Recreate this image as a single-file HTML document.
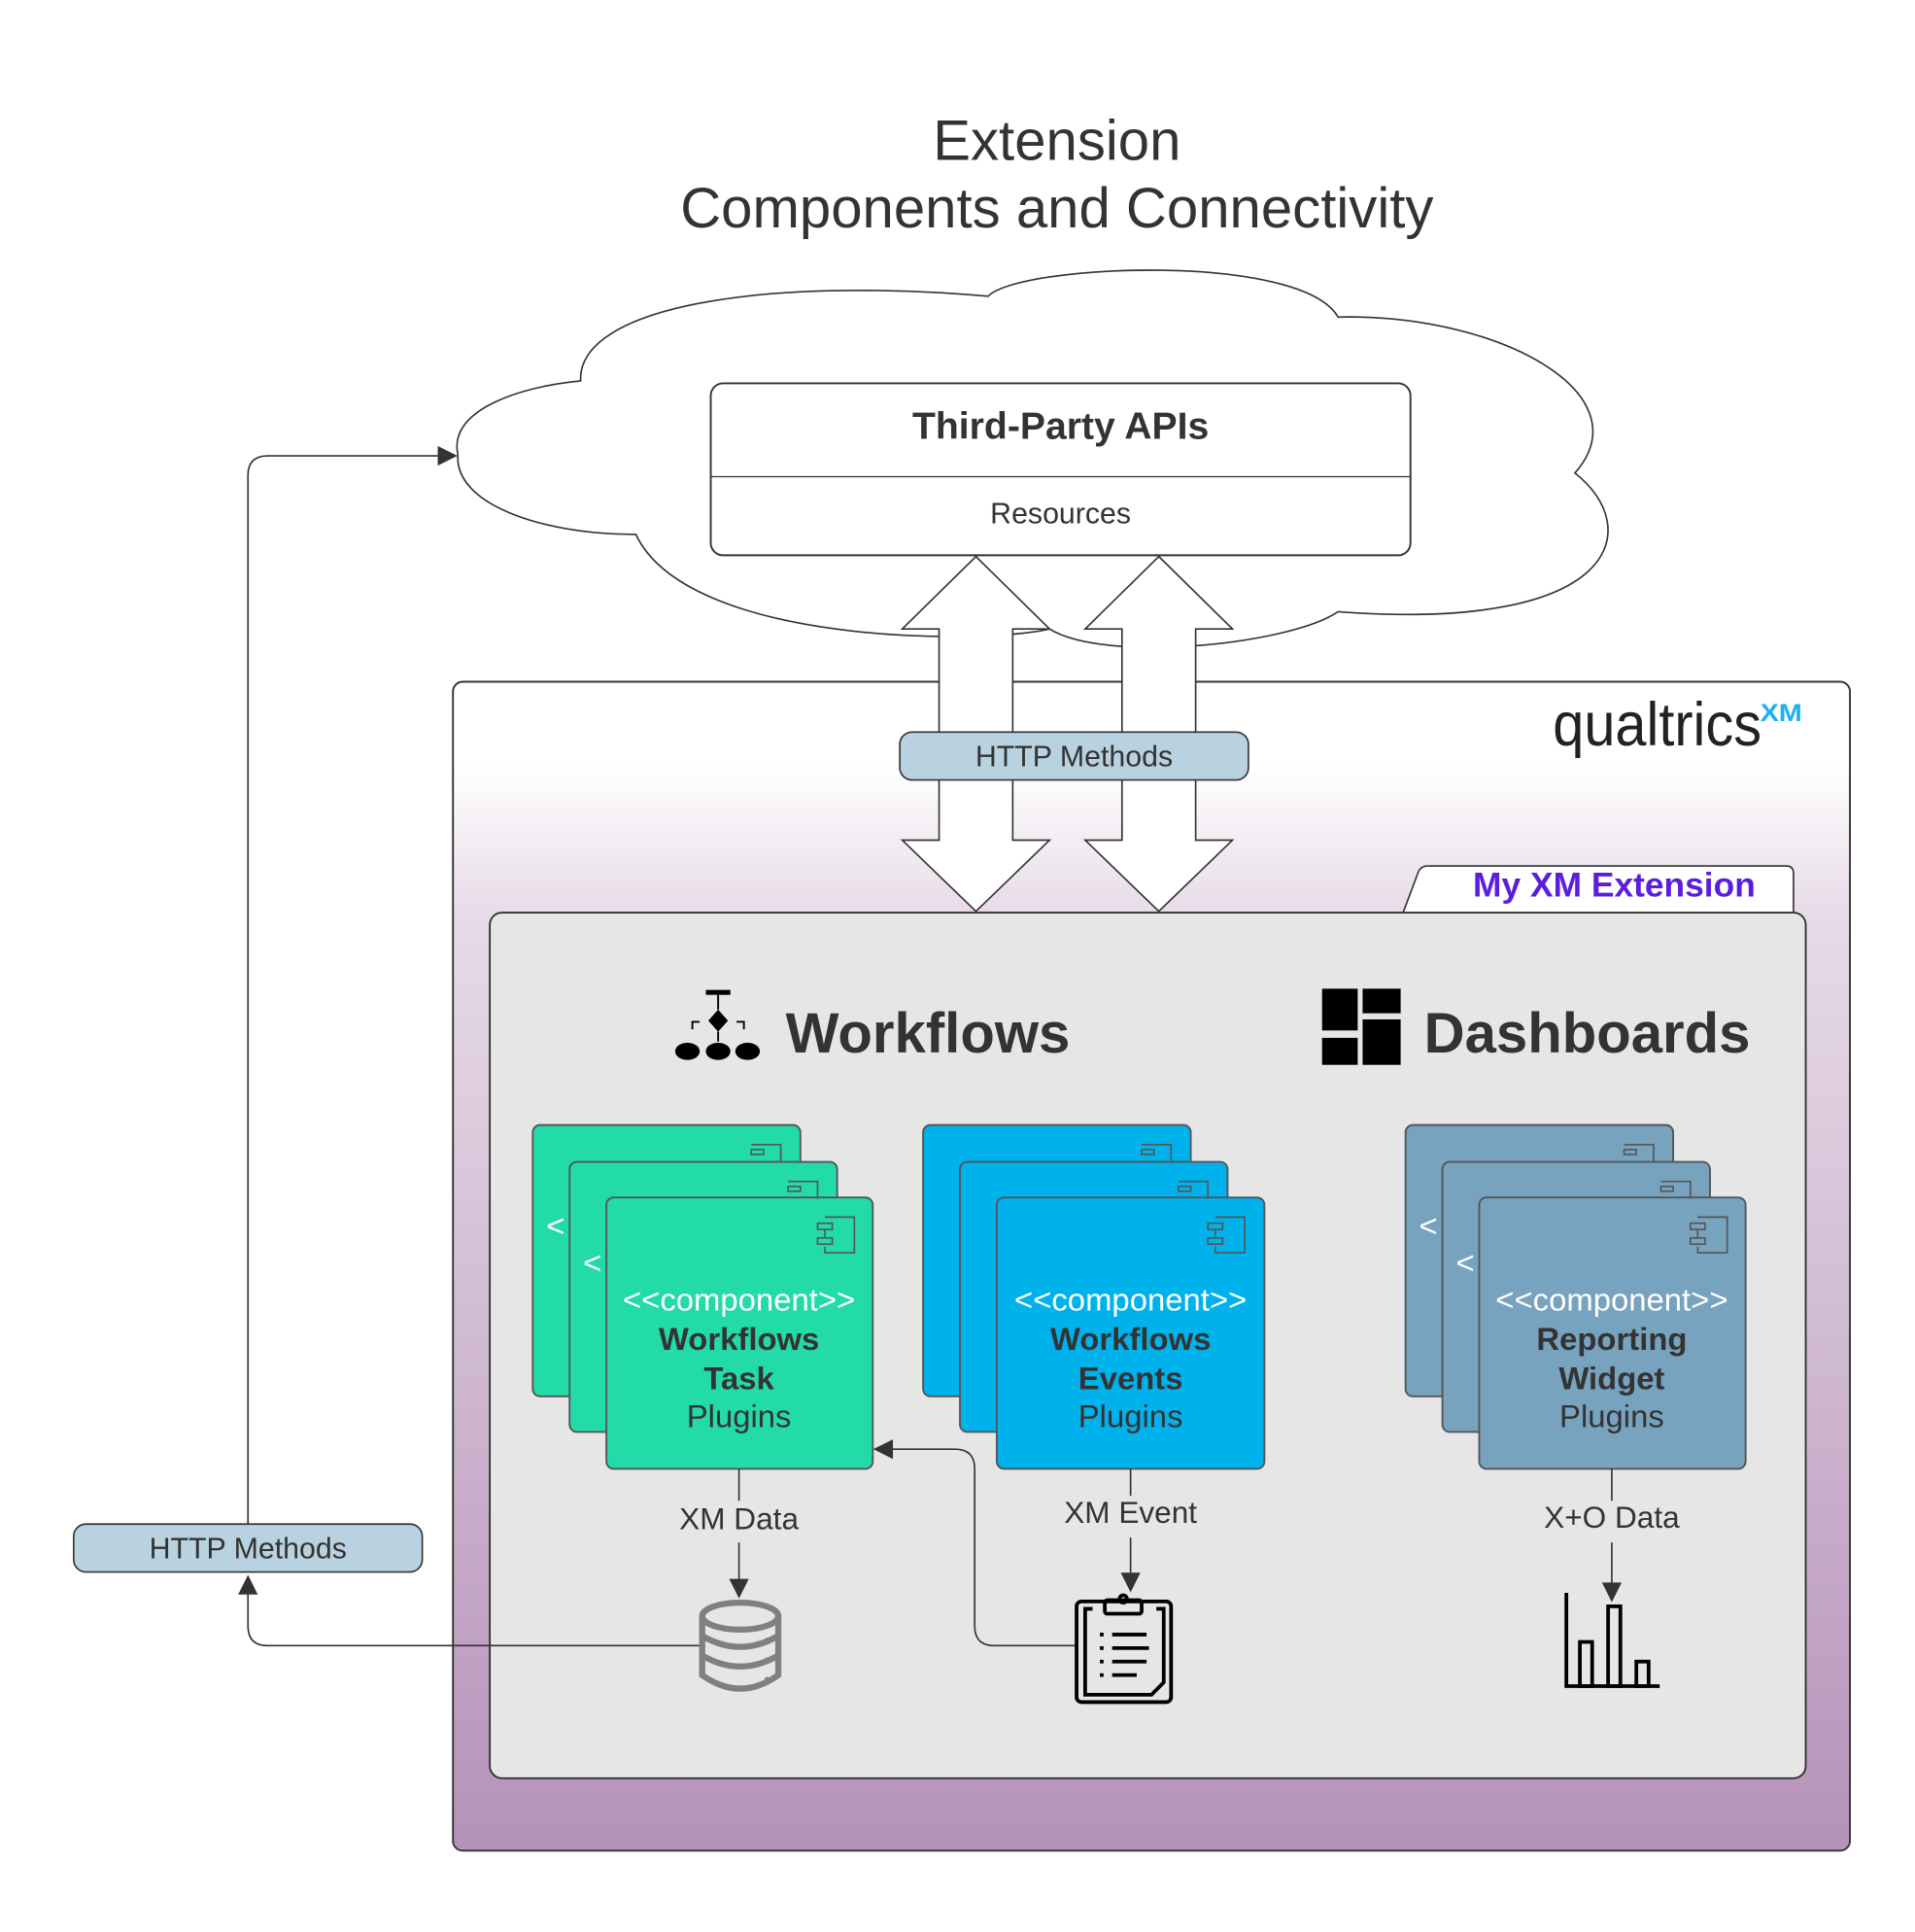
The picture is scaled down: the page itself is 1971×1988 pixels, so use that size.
<!DOCTYPE html>
<html><head><meta charset="utf-8"><style>
html,body{margin:0;padding:0;background:#fff}
svg{display:block}
text{font-family:"Liberation Sans",sans-serif;fill:#333}
</style></head><body>
<svg width="1971" height="1988" viewBox="0 0 1560 1573" xmlns="http://www.w3.org/2000/svg">
<defs>
<linearGradient id="bg" x1="0" y1="0" x2="0" y2="1">
<stop offset="0" stop-color="#ffffff"/>
<stop offset="0.07" stop-color="#ffffff"/>
<stop offset="0.2" stop-color="#e7dbe8"/>
<stop offset="1" stop-color="#b592b8"/>
</linearGradient>
<marker id="ah" viewBox="0 0 10 10" refX="9" refY="5" markerWidth="22" markerHeight="16" markerUnits="userSpaceOnUse" orient="auto"><path d="M0,0 L10,5 L0,10 Z" fill="#333"/></marker>
</defs>

<text x="861" y="130" font-size="46" text-anchor="middle">Extension</text>
<text x="861" y="185" font-size="46" text-anchor="middle">Components and Connectivity</text>

<rect x="369" y="555" width="1138" height="952" rx="8" fill="url(#bg)" stroke="#333" stroke-width="1.5"/>

<path d="M373,370 C365,335 420,315 473,310 C470,250 620,225 805,241 C830,215 1060,205 1090,258 C1220,255 1340,320 1283,385 C1340,430 1320,515 1090,498 C1050,525 900,540 855,512 C800,525 560,525 518,435 C440,435 370,410 373,370 Z" fill="#fff" stroke="#333" stroke-width="1.3"/>

<rect x="579" y="312" width="570" height="140" rx="10" fill="#fff" stroke="#333" stroke-width="1.5"/>
<line x1="579" y1="388" x2="1149" y2="388" stroke="#333" stroke-width="1"/>
<text x="864" y="357" font-size="31" font-weight="bold" text-anchor="middle">Third-Party APIs</text>
<text x="864" y="426" font-size="24" text-anchor="middle">Resources</text>

<path d="M795,453 L855,512 L825,512 L825,684 L855,684 L795,742 L735,684 L765,684 L765,512 L735,512 Z" fill="#fff" stroke="#333" stroke-width="1.3"/>
<path d="M944,453 L1004,512 L974,512 L974,684 L1004,684 L944,742 L884,684 L914,684 L914,512 L884,512 Z" fill="#fff" stroke="#333" stroke-width="1.3"/>
<rect x="733" y="596" width="284" height="39" rx="10" fill="#b9d2df" stroke="#333" stroke-width="1.3"/>
<text x="875" y="624" font-size="24" text-anchor="middle">HTTP Methods</text>

<text x="1265" y="607" font-size="50" textLength="170" lengthAdjust="spacingAndGlyphs" style="fill:#222">qualtrics</text>
<text x="1434" y="587" font-size="20" font-weight="bold" style="fill:#1bb0f0" textLength="34" lengthAdjust="spacingAndGlyphs">XM</text>

<path d="M1143,743 L1155,711 Q1157,705 1163,705 L1455,705 Q1461,705 1461,711 L1461,743" fill="#fff" stroke="#333" stroke-width="1.3"/>
<text x="1315" y="730" font-size="28" font-weight="bold" text-anchor="middle" style="fill:#5b1de0">My XM Extension</text>

<rect x="399" y="743" width="1072" height="705" rx="10" fill="#e6e6e6" stroke="#333" stroke-width="1.5"/>

<g fill="#000">
<rect x="575" y="806" width="20" height="4"/>
<line x1="585" y1="810" x2="585" y2="822" stroke="#000" stroke-width="1.5"/>
<path d="M585,822 L593,831 L585,840 L577,831 Z"/>
<line x1="585" y1="840" x2="585" y2="848" stroke="#000" stroke-width="1.5"/>
<path d="M564,838 L564,832 L570,832 M606,838 L606,832 L600,832" stroke="#000" stroke-width="1.5" fill="none"/>
<ellipse cx="560" cy="856" rx="10" ry="7"/>
<ellipse cx="585" cy="856" rx="10" ry="7"/>
<ellipse cx="609" cy="856" rx="10" ry="7"/>
</g>
<text x="640" y="857" font-size="46" font-weight="bold">Workflows</text>

<g fill="#000">
<rect x="1077" y="805" width="29" height="34"/>
<rect x="1110" y="805" width="31" height="20"/>
<rect x="1077" y="845" width="29" height="22"/>
<rect x="1110" y="830" width="31" height="37"/>
</g>
<text x="1160" y="857" font-size="46" font-weight="bold">Dashboards</text>

<g stroke="#555" stroke-width="1.5">
<rect x="434" y="916" width="218" height="221" rx="6" fill="#22dba8"/>
<rect x="464" y="946" width="218" height="220" rx="6" fill="#22dba8"/>
<rect x="494" y="975" width="217" height="221" rx="6" fill="#22dba8"/>
<rect x="752" y="916" width="218" height="221" rx="6" fill="#00b2ec"/>
<rect x="782" y="946" width="218" height="220" rx="6" fill="#00b2ec"/>
<rect x="812" y="975" width="218" height="221" rx="6" fill="#00b2ec"/>
<rect x="1145" y="916" width="218" height="221" rx="6" fill="#77a3bf"/>
<rect x="1175" y="946" width="218" height="220" rx="6" fill="#77a3bf"/>
<rect x="1205" y="975" width="217" height="221" rx="6" fill="#77a3bf"/>
</g>
<g fill="none" stroke="#555" stroke-width="1.3">
<path d="M612,932 h24 v14 M612,936 h10 v4 h-10 z"/>
<path d="M642,962 h24 v14 M642,966 h10 v4 h-10 z"/>
<path d="M672,991 h24 v29 h-24 v-5 M666,996 h12 v5 h-12 z M666,1008 h12 v5 h-12 z M672,1001 v7"/>
<path d="M930,932 h24 v14 M930,936 h10 v4 h-10 z"/>
<path d="M960,962 h24 v14 M960,966 h10 v4 h-10 z"/>
<path d="M990,991 h24 v29 h-24 v-5 M984,996 h12 v5 h-12 z M984,1008 h12 v5 h-12 z M990,1001 v7"/>
<path d="M1323,932 h24 v14 M1323,936 h10 v4 h-10 z"/>
<path d="M1353,962 h24 v14 M1353,966 h10 v4 h-10 z"/>
<path d="M1383,991 h24 v29 h-24 v-5 M1377,996 h12 v5 h-12 z M1377,1008 h12 v5 h-12 z M1383,1001 v7"/>
</g>
<g font-size="26">
<text x="445" y="1007" style="fill:#fff">&lt;</text><text x="475" y="1037" style="fill:#fff">&lt;</text>
<text x="1156" y="1007" style="fill:#fff">&lt;</text><text x="1186" y="1037" style="fill:#fff">&lt;</text>
</g>
<g text-anchor="middle" font-size="26">
<text x="602" y="1067" style="fill:#fff">&lt;&lt;component&gt;&gt;</text>
<text x="602" y="1099" font-weight="bold">Workflows</text>
<text x="602" y="1131" font-weight="bold">Task</text>
<text x="602" y="1162">Plugins</text>
<text x="921" y="1067" style="fill:#fff">&lt;&lt;component&gt;&gt;</text>
<text x="921" y="1099" font-weight="bold">Workflows</text>
<text x="921" y="1131" font-weight="bold">Events</text>
<text x="921" y="1162">Plugins</text>
<text x="1313" y="1067" style="fill:#fff">&lt;&lt;component&gt;&gt;</text>
<text x="1313" y="1099" font-weight="bold">Reporting</text>
<text x="1313" y="1131" font-weight="bold">Widget</text>
<text x="1313" y="1162">Plugins</text>
</g>

<g stroke="#333" stroke-width="1.3" fill="none">
<line x1="602" y1="1196" x2="602" y2="1222"/>
<line x1="602" y1="1256" x2="602" y2="1300" marker-end="url(#ah)"/>
<line x1="921" y1="1196" x2="921" y2="1218"/>
<line x1="921" y1="1252" x2="921" y2="1295" marker-end="url(#ah)"/>
<line x1="1313" y1="1196" x2="1313" y2="1222"/>
<line x1="1313" y1="1256" x2="1313" y2="1303" marker-end="url(#ah)"/>
<path d="M876,1340 L810,1340 Q794,1340 794,1324 L794,1196 Q794,1180 778,1180 L713,1180" marker-end="url(#ah)"/>
<path d="M570,1340 L218,1340 Q202,1340 202,1324 L202,1284" marker-end="url(#ah)"/>
<path d="M202,1241 L202,387 Q202,371 218,371 L371,371" marker-end="url(#ah)"/>
</g>
<g text-anchor="middle" font-size="25">
<text x="602" y="1245">XM Data</text>
<text x="921" y="1240">XM Event</text>
<text x="1313" y="1244">X+O Data</text>
</g>

<rect x="60" y="1241" width="284" height="39" rx="10" fill="#b9d2df" stroke="#333" stroke-width="1.3"/>
<text x="202" y="1269" font-size="24" text-anchor="middle">HTTP Methods</text>

<g fill="none" stroke="#808080" stroke-width="5">
<ellipse cx="603" cy="1316" rx="31" ry="11"/>
<path d="M572,1316 V1364 Q603,1386 634,1364 V1316"/>
<path d="M572,1332 Q603,1350 634,1332 M572,1348 Q603,1366 634,1348"/>
</g>
<g fill="#808080"><circle cx="625" cy="1336" r="2.5"/><circle cx="625" cy="1352" r="2.5"/><circle cx="625" cy="1368" r="2.5"/></g>

<g fill="none" stroke="#000" stroke-width="3">
<rect x="877" y="1304" width="77" height="82" rx="4"/>
<path d="M890,1310 h-6 v70 h54 l10,-10 v-60 h-6"/>
<rect x="900" y="1303" width="30" height="11" rx="2"/>
<circle cx="915" cy="1302" r="3"/>
<path d="M906,1331 h28 M906,1342 h30 M906,1353 h28 M906,1364 h20"/>
<path d="M896,1331 h3 M896,1342 h3 M896,1353 h3 M896,1364 h3"/>
</g>

<g fill="none" stroke="#000" stroke-width="3">
<path d="M1276,1297 V1373 H1352"/>
<rect x="1287" y="1337" width="10" height="36"/>
<rect x="1310" y="1308" width="10" height="65"/>
<rect x="1333" y="1353" width="10" height="20"/>
</g>
</svg>
</body></html>
